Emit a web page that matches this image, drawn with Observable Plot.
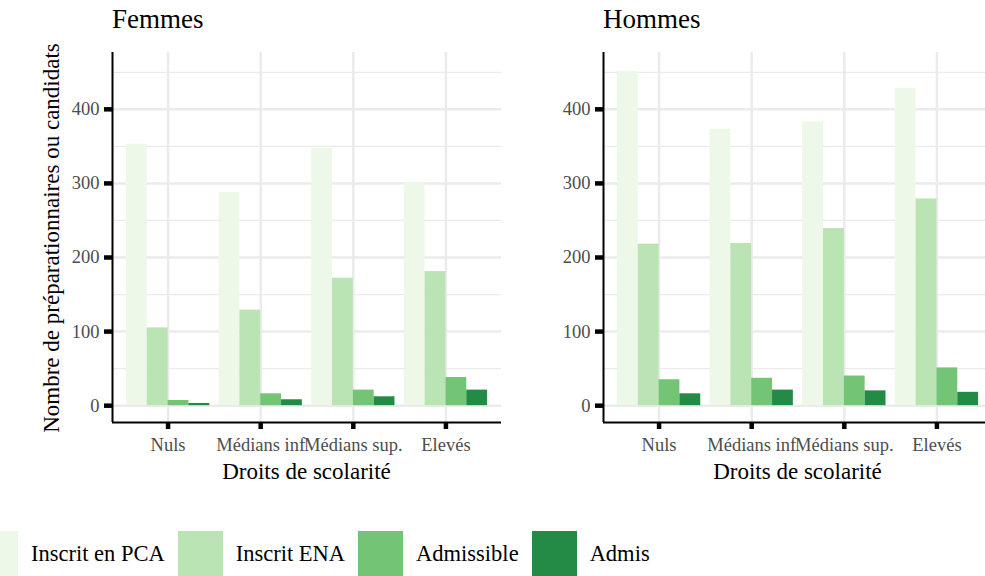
<!DOCTYPE html>
<html>
<head>
<meta charset="utf-8">
<script src="https://cdn.jsdelivr.net/npm/d3@7"></script>
<script src="https://cdn.jsdelivr.net/npm/@observablehq/plot@0.6"></script>
<style>
  html, body { margin: 0; padding: 0; background: #fff; overflow: hidden; }
  #root { position: relative; width: 985px; height: 576px; overflow: hidden; font-family: "Liberation Serif", serif; }
  .panel { position: absolute; top: 0; }
  .title { position: absolute; font-size: 27px; color: #000; line-height: 1; white-space: nowrap; }
  .xtitle { position: absolute; font-size: 23px; color: #000; line-height: 1; white-space: nowrap; transform: translateX(-50%); }
  .ytitle { position: absolute; font-size: 23px; color: #000; line-height: 1; white-space: nowrap; transform: translate(-50%, -50%) rotate(-90deg); }
  #legend { position: absolute; left: -27px; top: 531px; display: flex; align-items: flex-start; }
  .sw { width: 45px; height: 50px; margin-right: 13px; }
  .lt { font-size: 22.5px; margin-right: 13px; line-height: 1; margin-top: 12px; white-space: nowrap; }
</style>
</head>
<body>
<div id="root"></div>
<script>
const categories = ["Nuls", "Médians inf", "Médians sup.", "Elevés"];
const seriesNames = ["Inscrit en PCA", "Inscrit ENA", "Admissible", "Admis"];
const seriesColors = ["#edf8e9", "#bae4b3", "#74c476", "#238b45"];

const femmesPCA = [353, 288, 347, 301];
const femmesENA = [105, 129, 172, 181];
const femmesAdmissible = [7, 16, 21, 38];
const femmesAdmis = [3, 8, 12, 21];

const hommesPCA = [451, 373, 383, 428];
const hommesENA = [218, 219, 239, 279];
const hommesAdmissible = [35, 37, 40, 51];
const hommesAdmis = [16, 21, 20, 18];

const majorTicks = [0, 100, 200, 300, 400];
const minorTicks = [50, 150, 250, 350, 450];
const yDomain = [-22.7, 476.7];

const root = document.getElementById("root");

function rowsFor(seriesValues) {
  const rows = [];
  const n = seriesNames.length;
  const groupWidth = 0.9;
  const w = groupWidth / n;
  categories.forEach((c, i) => {
    seriesNames.forEach((s, j) => {
      const x1 = (i + 1) - groupWidth / 2 + j * w;
      rows.push({category: c, series: s, value: seriesValues[j][i], x1, x2: x1 + w});
    });
  });
  return rows;
}

function makePanel(seriesValues) {
  const catPos = categories.map((c, i) => i + 1);
  return Plot.plot({
    width: 505,
    height: 490,
    marginLeft: 112,
    marginRight: 4,
    marginTop: 52,
    marginBottom: 68,
    style: {fontFamily: "Liberation Serif", background: "transparent", overflow: "visible"},
    x: {type: "linear", domain: [0.4, categories.length + 0.6], axis: null},
    y: {domain: yDomain, axis: null},
    color: {domain: seriesNames, range: seriesColors},
    marks: [
      Plot.gridY(minorTicks, {stroke: "#ebebeb", strokeOpacity: 1, strokeWidth: 1.3}),
      Plot.gridY(majorTicks, {stroke: "#ebebeb", strokeOpacity: 1, strokeWidth: 2.5}),
      Plot.gridX(catPos, {stroke: "#ebebeb", strokeOpacity: 1, strokeWidth: 2.5}),
      Plot.rect(rowsFor(seriesValues), {x1: "x1", x2: "x2", y1: 0, y2: "value", fill: "series"}),
      Plot.ruleX([0.4], {stroke: "#000", strokeWidth: 2}),
      Plot.ruleY([yDomain[0]], {stroke: "#000", strokeWidth: 2}),
      Plot.axisY(majorTicks, {tickSize: 8, tickPadding: 5, stroke: "#000", strokeWidth: 4.5, fill: "#4d4d4d", fontSize: 18.5, label: null}),
      Plot.axisX(catPos, {tickSize: 7, tickPadding: 8, stroke: "#000", strokeWidth: 4.5, fill: "#4d4d4d", fontSize: 18.5, label: null, tickFormat: d => categories[d - 1]})
    ]
  });
}

function addPanel(left, title, seriesValues) {
  const p = makePanel(seriesValues);
  p.classList.add("panel");
  p.style.left = left + "px";
  root.appendChild(p);
  const t = document.createElement("div");
  t.className = "title";
  t.textContent = title;
  t.style.left = (left + 112) + "px";
  t.style.top = "6px";
  root.appendChild(t);
  const xt = document.createElement("div");
  xt.className = "xtitle";
  xt.textContent = "Droits de scolarité";
  xt.style.left = (left + 112 + 389 / 2) + "px";
  xt.style.top = "460px";
  root.appendChild(xt);
}

addPanel(0, "Femmes", [femmesPCA, femmesENA, femmesAdmissible, femmesAdmis]);
addPanel(491, "Hommes", [hommesPCA, hommesENA, hommesAdmissible, hommesAdmis]);

const yt = document.createElement("div");
yt.className = "ytitle";
yt.textContent = "Nombre de préparationnaires ou candidats";
yt.style.left = "51px";
yt.style.top = "238px";
root.appendChild(yt);

const legend = document.createElement("div");
legend.id = "legend";
seriesNames.forEach((s, i) => {
  const sw = document.createElement("div");
  sw.className = "sw";
  sw.style.background = seriesColors[i];
  legend.appendChild(sw);
  const lt = document.createElement("div");
  lt.className = "lt";
  lt.textContent = s;
  legend.appendChild(lt);
});
root.appendChild(legend);
</script>
</body>
</html>
